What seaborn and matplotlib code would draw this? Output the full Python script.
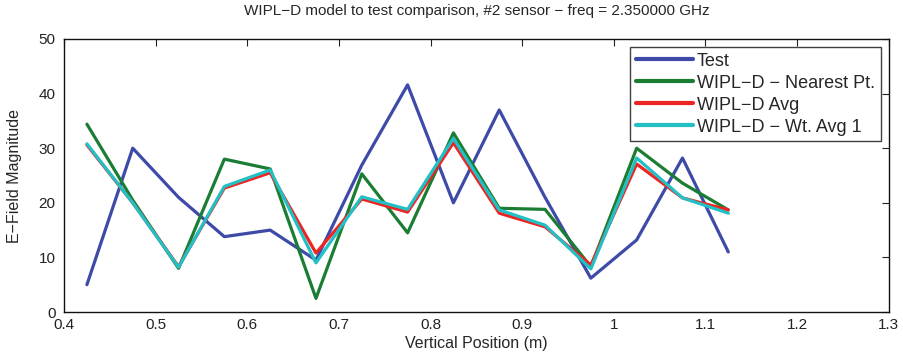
import pandas as pd
import matplotlib
matplotlib.use('Agg')
import matplotlib.pyplot as plt
import seaborn as sns

sns.set_style("white")
plt.rcParams['font.family'] = ['Liberation Sans', 'DejaVu Sans']
plt.rcParams['axes.unicode_minus'] = False

position = [0.425, 0.475, 0.525, 0.575, 0.625, 0.675, 0.725, 0.775,
            0.825, 0.875, 0.925, 0.975, 1.025, 1.075, 1.125]
test = [5, 30, 21, 13.8, 15, 9.5, 26.9, 41.6, 20, 37, 21, 6.2, 13.2, 28.2, 11]
nearest = [34.4, 20.5, 8, 28, 26.2, 2.5, 25.3, 14.5, 32.8, 19, 18.8, 8.3, 30, 23.6, 18.7]
avg = [30.6, 20, 8.3, 22.7, 25.5, 10.8, 20.7, 18.3, 31, 18.1, 15.6, 8.6, 27.1, 20.9, 18.7]
wt_avg = [30.8, 20, 8.2, 23, 26, 9, 21.1, 18.8, 31.8, 18.7, 15.9, 7.9, 28.2, 20.9, 18.1]

names = ['Test', 'WIPL\u2212D \u2212 Nearest Pt.', 'WIPL\u2212D Avg', 'WIPL\u2212D \u2212 Wt. Avg 1']
colors = ['#3d4aa8', '#1b7d34', '#ee2424', '#22c0c4']

frames = []
for name, vals in zip(names, [test, nearest, avg, wt_avg]):
    frames.append(pd.DataFrame({'pos': position, 'mag': vals, 'series': name}))
df = pd.concat(frames)

fig = plt.figure(figsize=(9.04, 3.61), dpi=100)
ax = fig.add_axes([0.0708, 0.1357, 0.9122, 0.7563])
sns.lineplot(data=df, x='pos', y='mag', hue='series', hue_order=names,
             palette=dict(zip(names, colors)), linewidth=2.3, ax=ax, sort=False)

ax.set_xlim(0.4, 1.3)
ax.set_ylim(0, 50)
ax.set_xticks([0.4, 0.5, 0.6, 0.7, 0.8, 0.9, 1.0, 1.1, 1.2, 1.3])
ax.set_xticklabels(['0.4', '0.5', '0.6', '0.7', '0.8', '0.9', '1', '1.1', '1.2', '1.3'])
ax.set_yticks([0, 10, 20, 30, 40, 50])
ax.tick_params(direction='in', top=True, right=True, length=5, width=0.8,
               labelsize=11, colors='#222222')
ax.tick_params(axis='x', pad=4)
ax.tick_params(axis='y', pad=6)
for s in ax.spines.values():
    s.set_color('#111111')
    s.set_linewidth(1.0)
ax.set_xlabel('Vertical Position (m)', fontsize=11.5, labelpad=3)
ax.set_ylabel('E\u2212Field Magnitude', fontsize=11.5, labelpad=12)
ax.set_title('WIPL\u2212D model to test comparison, #2 sensor \u2212 freq = 2.350000 GHz',
             fontsize=11, pad=17)

leg = ax.legend(loc='upper right', fontsize=13, frameon=True, fancybox=False,
                borderaxespad=0.45, handlelength=3.2, labelspacing=0.28,
                borderpad=0.3, handletextpad=0.2)
leg.get_frame().set_edgecolor('#111111')
leg.get_frame().set_linewidth(1.0)
for line in leg.get_lines():
    line.set_linewidth(3.0)

fig.savefig('out.png', dpi=100)
